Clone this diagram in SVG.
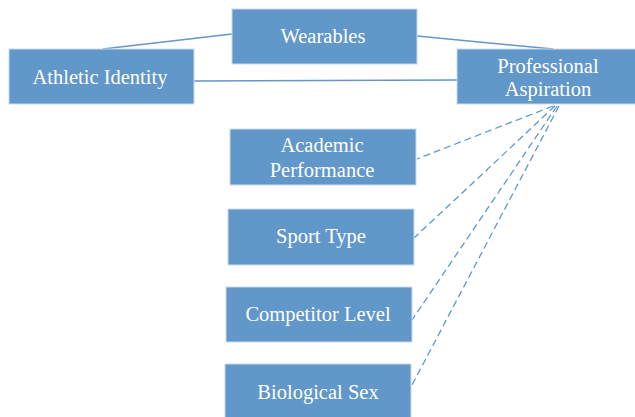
<svg xmlns="http://www.w3.org/2000/svg" width="635" height="417" viewBox="0 0 635 417">
<style>
.box{fill:#6197C9;stroke:#C9DAEC;stroke-width:1}
.lbl{font-family:'Liberation Serif','DejaVu Serif',serif;font-size:20.5px;fill:#FFFFFF;text-anchor:middle}
.solid{stroke:#6197C9;stroke-width:1.5;fill:none}
.dash{stroke:#6197C9;stroke-width:1.3;fill:none;stroke-dasharray:7,4}
</style>
<rect width="635" height="417" fill="#FFFFFF"/>
<g id="connectors">
<line class="solid" x1="103" y1="49" x2="232" y2="34"/>
<line class="solid" x1="194" y1="81" x2="457" y2="80"/>
<line class="solid" x1="417" y1="36" x2="553" y2="49"/>
<line class="dash" x1="553" y1="106" x2="417" y2="159"/>
<line class="dash" x1="555" y1="106" x2="414" y2="238"/>
<line class="dash" x1="557" y1="106" x2="412" y2="320"/>
<line class="dash" x1="559" y1="106" x2="411" y2="387"/>
</g>
<g id="athletic-identity">
<rect class="box" x="9" y="49" width="185" height="55"/>
<text class="lbl" x="100" y="84" font-family="Liberation Serif, serif">Athletic Identity</text>
</g>
<g id="wearables">
<rect class="box" x="232" y="9" width="185" height="55"/>
<text class="lbl" x="323" y="43" font-family="Liberation Serif, serif">Wearables</text>
</g>
<g id="professional-aspiration">
<rect class="box" x="457" y="49" width="185" height="55"/>
<text class="lbl" x="548" y="73" font-family="Liberation Serif, serif">Professional</text>
<text class="lbl" x="548" y="96" font-family="Liberation Serif, serif">Aspiration</text>
</g>
<g id="academic-performance">
<rect class="box" x="230" y="129" width="186" height="56"/>
<text class="lbl" x="322" y="152" font-family="Liberation Serif, serif">Academic</text>
<text class="lbl" x="322" y="177" font-family="Liberation Serif, serif">Performance</text>
</g>
<g id="sport-type">
<rect class="box" x="228" y="209" width="186" height="56"/>
<text class="lbl" x="321" y="243" font-family="Liberation Serif, serif">Sport Type</text>
</g>
<g id="competitor-level">
<rect class="box" x="226" y="287" width="186" height="55"/>
<text class="lbl" x="318" y="321" font-family="Liberation Serif, serif">Competitor Level</text>
</g>
<g id="biological-sex">
<rect class="box" x="225" y="364" width="186" height="60"/>
<text class="lbl" x="318" y="399" font-family="Liberation Serif, serif">Biological Sex</text>
</g>
</svg>
